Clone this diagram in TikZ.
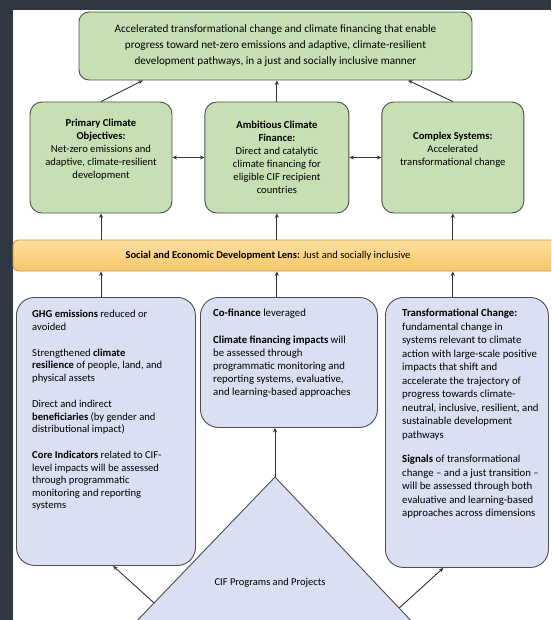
\documentclass[tikz,border=0pt]{standalone}
\usepackage{fontspec}
\setmainfont{Carlito}
\usetikzlibrary{arrows.meta,calc,chains,positioning}
\definecolor{goalgreen}{HTML}{C6E0B4}
\definecolor{resultblue}{HTML}{DAE0F1}
\definecolor{lenstop}{HTML}{FDDE9E}
\definecolor{lensbot}{HTML}{F6C76A}
\definecolor{lensline}{HTML}{C99A3E}
\definecolor{boxline}{HTML}{4D4D4D}
\definecolor{framegray}{HTML}{2F3742}
\definecolor{linkgray}{HTML}{333333}
\tikzset{>={Stealth[length=4.5pt,width=4pt]}}
\tikzstyle{goal}=[
	 rectangle, rounded corners=12pt,
	 draw=boxline, line width=0.9pt, fill=goalgreen,
	 align=center, font=\fontsize{10.6}{13}\selectfont,
	 minimum width=142pt, minimum height=111pt, inner sep=2pt
    ]
\tikzstyle{result}=[
	 rectangle, rounded corners=18pt,
	 draw=boxline, line width=0.9pt, fill=resultblue,
	 anchor=north west
    ]
\tikzstyle{resulttext}=[anchor=north west, align=left, inner sep=0pt]
\tikzstyle{link}=[->, draw=linkgray, line width=0.9pt]
\newcommand{\liftTo}[2]{\draw[link] (#1.north -| #2.south) -- (lens.south -| #2.south)}

\begin{document}
\begin{tikzpicture}[x=1pt, y=-1pt, start chain=goals going right, node distance=32pt]
\useasboundingbox (0,0) rectangle (551,620);
\clip (0,0) rectangle (551,620);
\fill[framegray] (0,0) rectangle (551,620);
\fill[white] (13,10) rectangle (551,620);

% vision
\node[goal, minimum width=393pt, minimum height=68pt, rounded corners=10pt,
  font=\fontsize{11.2}{16}\selectfont] (vision) at (275.5,46)
  {Accelerated transformational change and climate financing that enable\\
   progress toward net-zero emissions and adaptive, climate-resilient\\
   development pathways, in a just and socially inclusive manner};

% goals
\node[goal, on chain] (pco) at (101,157.5)
  {\textbf{Primary Climate}\\ \textbf{Objectives:}\\ Net-zero emissions and\\ adaptive, climate-resilient\\ development\\[4pt]};
\node[goal, on chain, minimum width=144pt] (acf)
  {\textbf{Ambitious Climate}\\ \textbf{Finance:}\\ Direct and catalytic\\ climate financing for\\ eligible CIF recipient\\ countries};
\node[goal, on chain] (cs)
  {\textbf{Complex Systems:}\\ Accelerated\\ transformational change\\[4pt]};

% lens
\node[rectangle, rounded corners=5pt, draw=lensline, line width=0.9pt,
  top color=lenstop, bottom color=lensbot,
  minimum width=546pt, minimum height=31pt] (lens) at (286,255.5) {};
\node[font=\fontsize{10.5}{12}\selectfont] (lenstext) at (268,255.5)
  {\textbf{Social and Economic Development Lens:} Just and socially inclusive};

% results
\node[result, minimum width=179pt, minimum height=268pt] (ghg) at (16,297) {};
\node[resulttext, font=\fontsize{10.6}{12.4}\selectfont] (ghgtext) at ([shift={(16pt,-13pt)}]ghg.north west)
  {\textbf{GHG emissions} reduced or\\ avoided\\[14pt]
   Strengthened \textbf{climate}\\ \textbf{resilience} of people, land, and\\ physical assets\\[14pt]
   Direct and indirect\\ \textbf{beneficiaries} (by gender and\\ distributional impact)\\[14pt]
   \textbf{Core Indicators} related to CIF-\\ level impacts will be assessed\\ through programmatic\\ monitoring and reporting\\ systems};
\node[result, minimum width=177pt, minimum height=130pt] (cof) at (200,297) {};
\node[resulttext, font=\fontsize{10.8}{13}\selectfont] (coftext) at ([shift={(13pt,-12pt)}]cof.north west)
  {\textbf{Co-finance} leveraged\\[14pt]
   \textbf{Climate financing impacts} will\\ be assessed through\\ programmatic monitoring and\\ reporting systems, evaluative,\\ and learning-based approaches};
\node[result, minimum width=163pt, minimum height=270pt] (tc) at (385,297) {};
\node[resulttext, font=\fontsize{10.8}{13.5}\selectfont] (tctext) at ([shift={(17pt,-12pt)}]tc.north west)
  {\textbf{Transformational Change:}\\ fundamental change in\\ systems relevant to climate\\ action with large-scale positive\\ impacts that shift and\\ accelerate the trajectory of\\ progress towards climate-\\ neutral, inclusive, resilient, and\\ sustainable development\\ pathways\\[11pt]
   \textbf{Signals} of transformational\\ change -- and a just transition --\\ will be assessed through both\\ evaluative and learning-based\\ approaches across dimensions};

% programs
\coordinate (apex) at (275,477);
\coordinate (baseL) at (130,628);
\coordinate (baseR) at (418,628);
\filldraw[fill=resultblue, draw=boxline, line width=0.9pt] (apex) -- (baseL) -- (baseR) -- cycle;
\node[font=\fontsize{10.5}{12}\selectfont] (cif) at (270,583) {CIF Programs and Projects};
\coordinate (triL) at ($(apex)!0.834!(baseL)$);
\coordinate (triR) at ($(apex)!0.868!(baseR)$);

\draw[link] (apex) -- (apex |- cof.south);
\draw[link] (triL) -- ($(ghg.south west)!0.54!(ghg.south east)$);
\draw[link] (triR) -- ($(tc.south west)!0.356!(tc.south east)$);

\liftTo{ghg}{pco};
\liftTo{cof}{acf};
\liftTo{tc}{cs};

\draw[link] (lens.north -| pco.south) -- (pco.south);
\draw[link] (lens.north -| acf.south) -- (acf.south);
\draw[link] (lens.north -| cs.south) -- (cs.south);

\draw[link, <->] (pco.east) -- (acf.west);
\draw[link, <->] (acf.east) -- (cs.west);

\draw[link] (pco.north) -- ($(vision.south west)!0.163!(vision.south east)$);
\draw[link] (acf.north) -- (acf.north |- vision.south);
\draw[link] (cs.north) -- ($(vision.south west)!0.837!(vision.south east)$);

\end{tikzpicture}
\end{document}
